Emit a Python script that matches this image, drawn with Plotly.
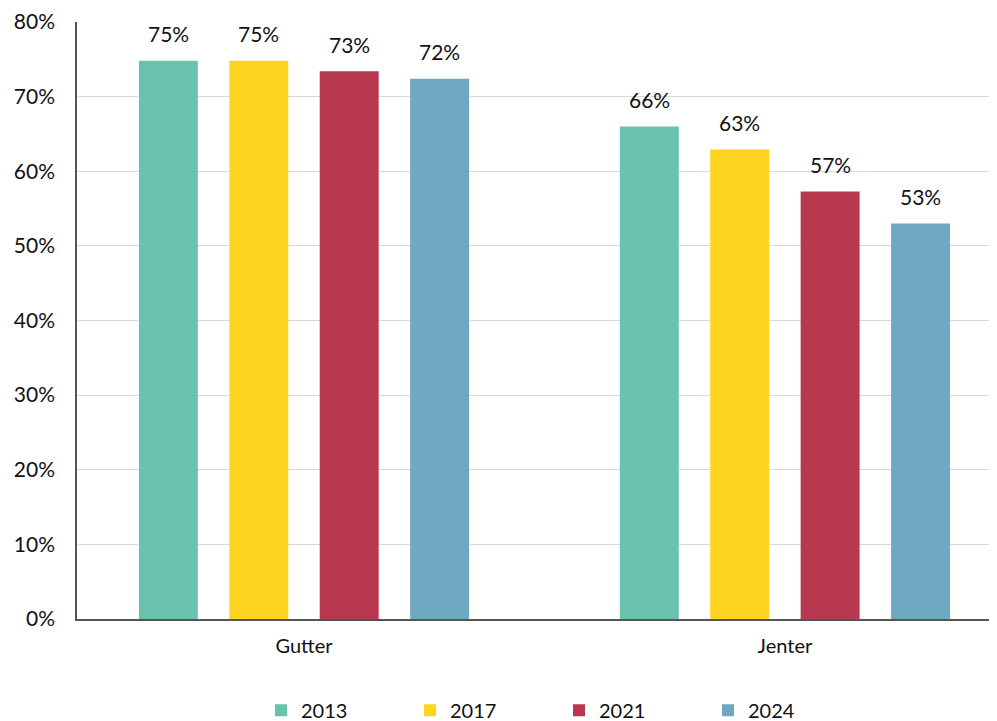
import plotly.graph_objects as go

# andeler per kjønn og år
groups = ["Gutter", "Jenter"]
years = ["2013", "2017", "2021", "2024"]
values_2013 = [74.8, 66.0]
values_2017 = [74.8, 62.9]
values_2021 = [73.4, 57.3]
values_2024 = [72.4, 53.0]

series = [values_2013, values_2017, values_2021, values_2024]
colors = ["#6AC2AE", "#FDD41F", "#B8384F", "#6FA8C3"]
font_name = "Lato"

fig = go.Figure()

for year, vals, col in zip(years, series, colors):
    fig.add_trace(go.Bar(x=groups, y=vals, name=year, marker_color=col,
                         marker_line_width=0))

# verdietiketter over stolpene
slot_px = 90.5
for k, vals in enumerate(series):
    for g, v in zip(groups, vals):
        fig.add_annotation(x=g, y=v, text=f"{v:.0f}%", showarrow=False,
                           xshift=(k - 1.5) * slot_px, yshift=27,
                           yanchor="middle",
                           font=dict(family=font_name, size=21, color="#111"))

# siden har 8px body-marg, så marginene er justert for det
fig.update_layout(
    width=997, height=721,
    margin=dict(l=69, r=8, t=14, b=110, autoexpand=False),
    plot_bgcolor="white", paper_bgcolor="white",
    barmode="group", bargap=0.248, bargroupgap=0.348,
    font=dict(family=font_name, size=20, color="#111"),
    legend=dict(orientation="h", x=0.20, xanchor="left", y=0.026,
                yref="container", yanchor="middle", entrywidth=104,
                font=dict(size=20), traceorder="normal"),
)

fig.update_yaxes(range=[0, 80], dtick=10, ticksuffix="%",
                 showgrid=True, gridcolor="#d9d9d9", gridwidth=1,
                 showline=True, linecolor="#555", linewidth=1.5,
                 zeroline=False, ticks="", ticklabelstandoff=16,
                 tickfont=dict(size=21), automargin=False)
fig.update_xaxes(range=[-0.472, 1.441], showline=True, linecolor="#555",
                 linewidth=1.5, ticks="", ticklabelstandoff=8,
                 tickfont=dict(size=20), automargin=False)

fig.write_html("out.html")
